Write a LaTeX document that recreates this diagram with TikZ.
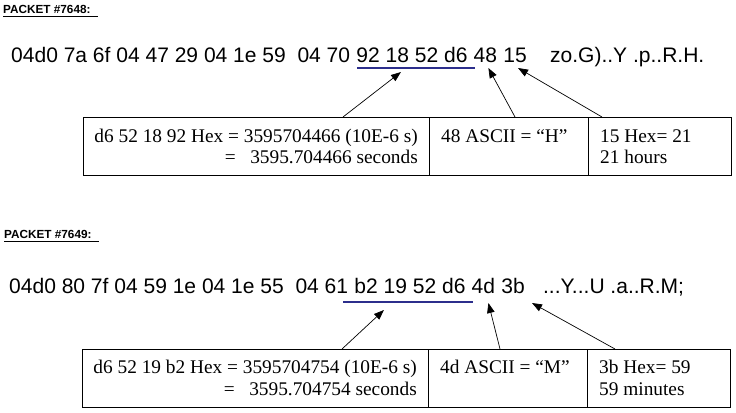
\documentclass[tikz,border=0pt]{standalone}
\usepackage{fontspec}
\setmainfont{Liberation Serif}
\newfontfamily\arialfont{Liberation Sans}
\usetikzlibrary{positioning,arrows.meta}
\definecolor{markblue}{RGB}{44,46,140}
\newcommand{\hexgap}{5.84bp}
\tikzset{
  hdr/.style={inner sep=0pt, font=\arialfont\bfseries\fontsize{11.8}{14}\selectfont},
  hex/.style={inner sep=0pt, font=\arialfont\fontsize{21.1}{25}\selectfont},
  cell/.style={draw, line width=.75pt, inner sep=0pt, outer sep=0pt, minimum height=58bp},
  celltxt/.style={inner sep=0pt, font=\fontsize{19.4}{22}\selectfont},
  ptr/.style={-{Triangle[length=10bp,width=7.5bp]}, line width=.7pt},
  byteline/.style={markblue, line width=2.5pt},
}
\begin{document}
\begin{tikzpicture}[x=1bp,y=-1bp]
\useasboundingbox (0,0) rectangle (736,412);

% packet 7648
\node[hdr,anchor=base west] (hdrA) at (3,13) {PACKET \#7648:};
\draw[line width=.8pt] ([yshift=-3bp]hdrA.base west) -- ([xshift=7bp,yshift=-3bp]hdrA.base east);

\node[hex,anchor=base west] (hexA1) at (11,62) {04d0 7a 6f 04 47 29 04 1e 59\ \ 04 70};
\node[hex,base right=\hexgap of hexA1] (hexA2) {92 18 52 d6};
\node[hex,base right=\hexgap of hexA2] (hexA3) {48};
\node[hex,base right=\hexgap of hexA3] (hexA4) {15};
\node[hex,base right=23bp of hexA4] (ascA) {zo.G)..Y .p..R.H.};
\draw[byteline] ([xshift=1bp,yshift=-6bp]hexA2.base west) -- ([xshift=7bp,yshift=-6bp]hexA2.base east);

\node[cell,anchor=north west,minimum width=346bp] (cA1) at (83,117) {};
\node[cell,right=0pt of cA1,minimum width=159bp] (cA2) {};
\node[cell,right=0pt of cA2,minimum width=143bp] (cA3) {};
\node[celltxt,anchor=base east] (tA1) at ([xshift=-11bp,yshift=-25bp]cA1.north east) {d6 52 18 92 Hex = 3595704466 (10E-6 s)};
\node[celltxt,anchor=base east] (tA2) at ([xshift=-11bp,yshift=-46bp]cA1.north east) {= \ \ 3595.704466 seconds};
\node[celltxt,anchor=base west] (tA3) at ([xshift=12bp,yshift=-25bp]cA2.north west) {48 ASCII = “H”};
\node[celltxt,anchor=base west] (tA4) at ([xshift=12bp,yshift=-25bp]cA3.north west) {15 Hex= 21};
\node[celltxt,anchor=base west] (tA5) at ([xshift=12bp,yshift=-46bp]cA3.north west) {21 hours};

\draw[ptr] ([xshift=-86bp]cA1.north east) -- ([xshift=-11bp,yshift=-10bp]hexA2.base);
\draw[ptr] ([xshift=6.5bp]cA2.north) -- ([xshift=3bp,yshift=-6bp]hexA3.base);
\draw[ptr] ([xshift=14bp]cA3.north west) -- ([xshift=3bp,yshift=-6bp]hexA4.base);

% packet 7649
\node[hdr,anchor=base west] (hdrB) at (4,238) {PACKET \#7649:};
\draw[line width=.8pt] ([yshift=-3bp]hdrB.base west) -- ([xshift=7bp,yshift=-3bp]hdrB.base east);

\node[hex,anchor=base west] (hexB1) at (9,293) {04d0 80 7f 04 59 1e 04 1e 55\ \ 04 61};
\node[hex,base right=\hexgap of hexB1] (hexB2) {b2 19 52 d6};
\node[hex,base right=\hexgap of hexB2] (hexB3) {4d};
\node[hex,base right=\hexgap of hexB3] (hexB4) {3b};
\node[hex,base right=18bp of hexB4] (ascB) {...Y...U .a..R.M;};
\draw[byteline] ([xshift=-11bp,yshift=-9bp]hexB2.base west) -- ([xshift=7bp,yshift=-9bp]hexB2.base east);

\node[cell,anchor=north west,minimum width=346bp] (cB1) at (82,349) {};
\node[cell,right=0pt of cB1,minimum width=159bp] (cB2) {};
\node[cell,right=0pt of cB2,minimum width=143bp] (cB3) {};
\node[celltxt,anchor=base east] (tB1) at ([xshift=-11bp,yshift=-24bp]cB1.north east) {d6 52 19 b2 Hex = 3595704754 (10E-6 s)};
\node[celltxt,anchor=base east] (tB2) at ([xshift=-11bp,yshift=-46bp]cB1.north east) {= \ \ 3595.704754 seconds};
\node[celltxt,anchor=base west] (tB3) at ([xshift=12bp,yshift=-24bp]cB2.north west) {4d ASCII = “M”};
\node[celltxt,anchor=base west] (tB4) at ([xshift=12bp,yshift=-24bp]cB3.north west) {3b Hex= 59};
\node[celltxt,anchor=base west] (tB5) at ([xshift=12bp,yshift=-46bp]cB3.north west) {59 minutes};

\draw[ptr] ([xshift=-86bp]cB1.north east) -- ([xshift=-26bp,yshift=-17bp]hexB2.base);
\draw[ptr] ([xshift=-7.5bp]cB2.north) -- ([xshift=5bp,yshift=-10bp]hexB3.base);
\draw[ptr] ([xshift=28bp]cB3.north west) -- ([xshift=19bp,yshift=-10bp]hexB4.base);
\end{tikzpicture}
\end{document}
